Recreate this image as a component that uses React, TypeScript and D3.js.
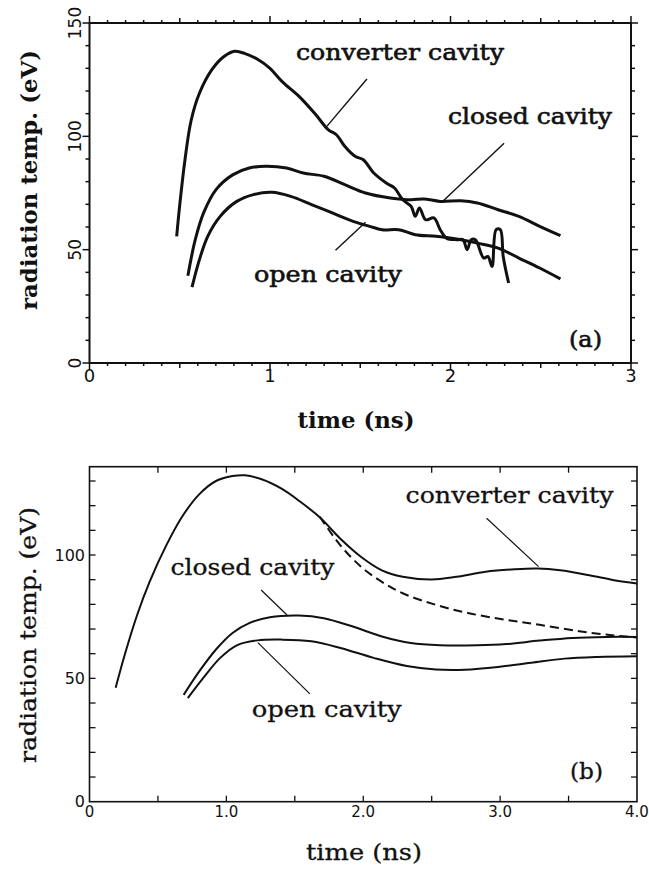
import React from 'react';
import * as d3 from 'd3';

// ---- panel (a): measured curves, [time ns, T eV] ----
const convertA: [number, number][] = [
	[0.483, 55.9], [0.499, 69], [0.529, 89.7], [0.563, 107], [0.609, 119], [0.678, 129.4],
	[0.747, 135.3], [0.805, 137.5], [0.862, 136.5], [0.931, 134], [1.0, 130], [1.069, 124],
	[1.161, 117.6], [1.253, 109.6], [1.322, 103], [1.368, 100.7], [1.414, 95.6], [1.471, 91.2],
	[1.517, 89.7], [1.575, 83.8], [1.644, 79.4], [1.69, 77.2], [1.736, 72], [1.782, 69.1],
	[1.805, 64.7], [1.828, 68.4], [1.862, 63.2], [1.908, 64], [1.943, 58.8], [1.977, 55.1],
	[2.034, 54.4], [2.069, 54.4], [2.092, 50], [2.115, 54.4], [2.138, 54.4], [2.184, 46.3],
	[2.207, 47], [2.23, 42.6], [2.253, 58.8], [2.276, 58.8], [2.292, 47], [2.322, 35.3],
];
const closedA: [number, number][] = [
	[0.545, 38.5], [0.586, 54.4], [0.632, 66.2], [0.701, 76.5], [0.793, 83], [0.885, 86],
	[0.977, 86.8], [1.092, 86], [1.184, 83.8], [1.299, 82.4], [1.414, 78.7], [1.529, 75],
	[1.667, 72.8], [1.782, 72], [1.851, 72.4], [1.943, 71.3], [2.057, 71.6], [2.149, 70.6],
	[2.264, 67.6], [2.379, 64.7], [2.494, 60.3], [2.609, 56.2],
];
const openA: [number, number][] = [
	[0.568, 33.5], [0.609, 45.6], [0.655, 55.9], [0.724, 64.7], [0.816, 71.3], [0.908, 74.3],
	[1.011, 75.3], [1.115, 73.5], [1.23, 69.9], [1.345, 66.2], [1.46, 62.5], [1.552, 60.3],
	[1.621, 58.8], [1.713, 58.8], [1.805, 56.6], [1.92, 55.9], [2.034, 54.7], [2.149, 52.9],
	[2.264, 50.7], [2.379, 46.3], [2.494, 41.9], [2.609, 37.1],
];

// ---- panel (b): calculated curves ----
const convertB: [number, number][] = [
	[0.191, 46.2], [0.258, 59.7], [0.348, 75.7], [0.439, 89.1], [0.561, 103.9], [0.682, 116],
	[0.803, 124.7], [0.924, 130], [1.045, 132], [1.136, 132.3], [1.258, 130.7], [1.409, 126.7],
	[1.53, 122], [1.682, 115.3], [1.833, 106.6], [1.985, 99.2], [2.136, 93.8], [2.288, 91.2],
	[2.5, 90.1], [2.682, 91.2], [2.894, 93.2], [3.106, 94.2], [3.273, 94.5], [3.439, 93.8],
	[3.652, 91.8], [3.833, 89.8], [4.0, 88.5],
];
const convertBdash: [number, number][] = [
	[1.682, 115.5], [1.833, 103.9], [1.985, 95.2], [2.136, 89.1], [2.288, 84.5], [2.53, 79.8],
	[2.773, 76.4], [3.045, 73.7], [3.288, 71.7], [3.591, 69], [3.833, 67.4], [4.0, 66.6],
];
const closedB: [number, number][] = [
	[0.688, 43.3], [0.803, 52.9], [0.924, 61.7], [1.045, 68.4], [1.167, 72.4], [1.318, 74.8],
	[1.53, 75.5], [1.712, 74.4], [1.924, 71], [2.136, 67], [2.348, 64.3], [2.561, 63.4],
	[2.833, 63.4], [3.045, 63.9], [3.288, 65.3], [3.53, 66.4], [3.773, 66.8], [4.0, 66.8],
];
const openB: [number, number][] = [
	[0.718, 42], [0.833, 50.3], [0.955, 58.3], [1.076, 63.4], [1.227, 65.4], [1.409, 65.7],
	[1.621, 65], [1.833, 62.3], [2.076, 58.3], [2.318, 55], [2.53, 53.6], [2.742, 53.5],
	[2.985, 54.6], [3.227, 56.3], [3.47, 58], [3.712, 58.7], [4.0, 59],
];

const xTicksA = [0, 1, 2, 3];
const yTicksA = [0, 50, 100, 150];
const xTicksB = [0, 1, 2, 3, 4];
const xTickLabelsB = ['0', '1.0', '2.0', '3.0', '4.0'];
const yTicksB = [0, 50, 100];
const seriesNames = ['converter cavity', 'closed cavity', 'open cavity'];
const yTitle = 'radiation temp. (eV)';
const xTitle = 'time (ns)';

// label anchor + leader line, in data units
const notesA = [
	{ text: seriesNames[0], at: [1.144, 133.7], len: 208, lead: [[1.537, 125.3], [1.316, 104.5]] },
	{ text: seriesNames[1], at: [1.986, 105.4], len: 164, lead: [[2.297, 97], [1.953, 71]] },
	{ text: seriesNames[2], at: [0.911, 35.9], len: 148, lead: [[1.529, 62.1], [1.363, 49.7]] },
];
const notesB = [
	{ text: seriesNames[0], at: [2.309, 121], len: 208, lead: [[2.901, 114.9], [3.281, 95.3]] },
	{ text: seriesNames[1], at: [0.592, 91.9], len: 164, lead: [[1.254, 85.8], [1.443, 75.7]] },
	{ text: seriesNames[2], at: [1.185, 34.5], len: 150, lead: [[1.23, 64.5], [1.61, 43.7]] },
];

const serif = '"DejaVu Serif", serif';
const sans = '"DejaVu Sans", sans-serif';
const ink = '#111';

const PanelA = () => {
	const x = d3.scaleLinear().domain([0, 3]).range([89.5, 631]);
	const y = d3.scaleLinear().domain([0, 150]).range([363, 23]);
	const line = d3
		.line<[number, number]>()
		.x((d) => x(d[0]))
		.y((d) => y(d[1]))
		.curve(d3.curveCatmullRom.alpha(0.5));

	const xMinor = d3.range(0, 3.0001, 0.1);
	const yMinor = d3.range(0, 150.001, 10);
	const xLen = (t: number) => (Math.abs(t - Math.round(t)) < 1e-6 ? 7 : Math.abs(t * 2 - Math.round(t * 2)) < 1e-6 ? 5 : 3);
	const yLen = (v: number) => (Math.round(v) % 50 === 0 ? 7 : 4);

	return (
		<g>
			<rect x={x(0)} y={y(150)} width={x(3) - x(0)} height={y(0) - y(150)} fill="none" stroke={ink} strokeWidth={2} />
			{xMinor.map((t, i) => (
				<g key={'xt' + i} stroke={ink} strokeWidth={1.5}>
					<line x1={x(t)} x2={x(t)} y1={y(0)} y2={y(0) + xLen(t)} />
					<line x1={x(t)} x2={x(t)} y1={y(150)} y2={y(150) - xLen(t)} />
				</g>
			))}
			{yMinor.map((v, i) => (
				<g key={'yt' + i} stroke={ink} strokeWidth={1.5}>
					<line x1={x(0)} x2={x(0) - yLen(v)} y1={y(v)} y2={y(v)} />
					<line x1={x(3)} x2={x(3) + yLen(v)} y1={y(v)} y2={y(v)} />
				</g>
			))}
			{xTicksA.map((t) => (
				<text key={'xl' + t} x={x(t)} y={382} textAnchor="middle" fontFamily={sans} fontSize={18} fill={ink}>
					{t}
				</text>
			))}
			{yTicksA.map((v) => (
				<text
					key={'yl' + v}
					transform={`translate(81,${y(v)}) rotate(-90)`}
					textAnchor="middle"
					fontFamily={sans}
					fontSize={17}
					fill={ink}>
					{v}
				</text>
			))}
			<text transform="translate(37,180) rotate(-90)" textAnchor="middle" fontFamily={serif} fontWeight="bold" fontSize={22} textLength={260} lengthAdjust="spacingAndGlyphs" fill={ink}>
				{yTitle}
			</text>
			<text x={356} y={428} textAnchor="middle" fontFamily={serif} fontWeight="bold" fontSize={22} textLength={117} lengthAdjust="spacingAndGlyphs" fill={ink}>
				{xTitle}
			</text>
			{[convertA, closedA, openA].map((s, i) => (
				<path key={'sa' + i} d={line(s) || ''} fill="none" stroke={ink} strokeWidth={3} strokeLinejoin="round" />
			))}
			{notesA.map((n, i) => (
				<g key={'na' + i}>
					<line x1={x(n.lead[0][0])} y1={y(n.lead[0][1])} x2={x(n.lead[1][0])} y2={y(n.lead[1][1])} stroke={ink} strokeWidth={1.4} />
					<text x={x(n.at[0])} y={y(n.at[1])} fontFamily={serif} fontSize={22} textLength={n.len} lengthAdjust="spacingAndGlyphs" fill={ink} stroke={ink} strokeWidth={0.6}>
						{n.text}
					</text>
				</g>
			))}
			<text x={569} y={347} fontFamily={serif} fontSize={22} textLength={33} lengthAdjust="spacingAndGlyphs" fill={ink} stroke={ink} strokeWidth={0.6}>
				(a)
			</text>
		</g>
	);
};

const PanelB = () => {
	const x = d3.scaleLinear().domain([0, 4]).range([89.5, 637]);
	const y = d3.scaleLinear().domain([0, 135.8]).range([801.7, 466.7]);
	const line = d3
		.line<[number, number]>()
		.x((d) => x(d[0]))
		.y((d) => y(d[1]))
		.curve(d3.curveCatmullRom.alpha(0.5));

	const xIn = d3.range(0.5, 4, 0.5);
	const yIn = d3.range(10, 135, 10);

	return (
		<g>
			<rect x={x(0)} y={y(135.8)} width={x(4) - x(0)} height={y(0) - y(135.8)} fill="none" stroke={ink} strokeWidth={1.6} />
			{xIn.map((t, i) => (
				<g key={'xt' + i} stroke={ink} strokeWidth={1.3}>
					<line x1={x(t)} x2={x(t)} y1={y(0)} y2={y(0) - 6} />
					<line x1={x(t)} x2={x(t)} y1={y(135.8)} y2={y(135.8) + 6} />
				</g>
			))}
			{yIn.map((v, i) => (
				<g key={'yt' + i} stroke={ink} strokeWidth={1.3}>
					<line x1={x(0)} x2={x(0) + 6} y1={y(v)} y2={y(v)} />
					<line x1={x(4)} x2={x(4) - 6} y1={y(v)} y2={y(v)} />
				</g>
			))}
			{xTicksB.map((t, i) => (
				<text key={'xl' + t} x={x(t)} y={817} textAnchor="middle" fontFamily={sans} fontSize={15} fill={ink}>
					{xTickLabelsB[i]}
				</text>
			))}
			{yTicksB.map((v) => (
				<text key={'yl' + v} x={85} y={y(v)} dy="0.36em" textAnchor="end" fontFamily={sans} fontSize={16} fill={ink}>
					{v}
				</text>
			))}
			<text transform="translate(36,635) rotate(-90)" textAnchor="middle" fontFamily={serif} fontSize={22} textLength={256} lengthAdjust="spacingAndGlyphs" fill={ink} stroke={ink} strokeWidth={0.3}>
				{yTitle}
			</text>
			<text x={364} y={860} textAnchor="middle" fontFamily={serif} fontSize={22} textLength={116} lengthAdjust="spacingAndGlyphs" fill={ink} stroke={ink} strokeWidth={0.3}>
				{xTitle}
			</text>
			{[convertB, closedB, openB].map((s, i) => (
				<path key={'sb' + i} d={line(s) || ''} fill="none" stroke={ink} strokeWidth={2} />
			))}
			<path d={line(convertBdash) || ''} fill="none" stroke={ink} strokeWidth={2} strokeDasharray="9,5" />
			{notesB.map((n, i) => (
				<g key={'nb' + i}>
					<line x1={x(n.lead[0][0])} y1={y(n.lead[0][1])} x2={x(n.lead[1][0])} y2={y(n.lead[1][1])} stroke={ink} strokeWidth={1.2} />
					<text x={x(n.at[0])} y={y(n.at[1])} fontFamily={serif} fontSize={22} textLength={n.len} lengthAdjust="spacingAndGlyphs" fill={ink} stroke={ink} strokeWidth={0.3}>
						{n.text}
					</text>
				</g>
			))}
			<text x={570} y={779} fontFamily={serif} fontSize={22} textLength={33} lengthAdjust="spacingAndGlyphs" fill={ink} stroke={ink} strokeWidth={0.3}>
				(b)
			</text>
		</g>
	);
};

export default function App() {
	return (
		<svg width={649} height={870} viewBox="0 0 649 870" style={{ position: 'absolute', left: 0, top: 0, background: '#fff' }}>
			<rect width={649} height={870} fill="#fff" />
			<PanelA />
			<PanelB />
		</svg>
	);
}
